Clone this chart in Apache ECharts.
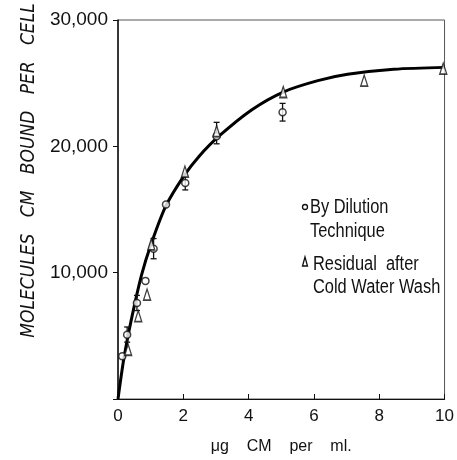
<!DOCTYPE html>
<html>
<head>
<meta charset="utf-8">
<script src="https://cdn.jsdelivr.net/npm/echarts@6/dist/echarts.min.js"></script>
<style>
  html, body { margin: 0; padding: 0; background: #fff; }
  #main { width: 457px; height: 460px; }
</style>
</head>
<body>
<div id="main"></div>
<script>
// values
var xTicks = [0, 2, 4, 6, 8, 10];
var yTicks = [0, 10000, 20000, 30000];

var dilution = [
  [0.13, 3380], [0.28, 5080], [0.58, 7600], [0.84, 9350], [1.09, 11900],
  [1.47, 15400], [2.06, 17100], [3.02, 20800], [5.04, 22700]
];
var residual = [
  [0.31, 3900], [0.62, 6560], [0.89, 8260], [1.02, 12240], [2.05, 18000],
  [3.02, 21200], [5.06, 24300], [7.54, 25200], [9.96, 26150]
];
// [x, low, high]
var errorBars = [
  [0.28, 4500, 5700], [0.58, 7000, 8200], [1.09, 11100, 12700],
  [2.06, 16550, 17650], [3.02, 20200, 21900], [5.04, 22000, 23400]
];
// hand-drawn fit curve
var curve = [
  [0, 0], [0.18, 3200], [0.41, 6300], [0.72, 9800], [1.02, 12300],
  [1.47, 15300], [2.03, 17700], [2.48, 19200], [3.09, 20800], [4.1, 22900],
  [5.06, 24300], [6.12, 25200], [7.03, 25700], [8.44, 26100], [10, 26250]
];

var myChart = echarts.init(document.getElementById('main'));
var narrow = '"Liberation Sans Narrow", "DejaVu Sans Condensed", sans-serif';
var sans = '"Liberation Sans", Arial, sans-serif';

var option = {
  backgroundColor: '#fff',
  animation: false,
  grid: {
    left: 118, right: 11, top: 20, bottom: 57,
    show: true, borderColor: '#555', borderWidth: 1
  },
  xAxis: {
    type: 'value',
    min: 0, max: 10, interval: 2,
    name: 'μg    CM    per    ml.',
    nameLocation: 'middle',
    nameGap: 40,
    nameTextStyle: { fontFamily: sans, fontSize: 16, color: '#111' },
    axisLine: { lineStyle: { color: '#111', width: 1.2 } },
    axisTick: { inside: true, length: 5, lineStyle: { color: '#111' } },
    axisLabel: { fontFamily: sans, fontSize: 17, color: '#111', margin: 9 },
    splitLine: { show: false }
  },
  yAxis: {
    type: 'value',
    min: 0, max: 30000, interval: 10000,
    name: 'MOLECULES   CM   BOUND   PER   CELL',
    nameLocation: 'middle',
    nameGap: 78,
    nameTextStyle: {
      fontFamily: narrow, fontSize: 19, fontStyle: 'italic', color: '#111',
      padding: [0, 0, 0, 78]
    },
    axisLine: { lineStyle: { color: '#111', width: 1.5 } },
    axisTick: { length: 5, lineStyle: { color: '#111' } },
    axisLabel: {
      fontFamily: sans, fontSize: 19, color: '#111', margin: 10,
      formatter: function (v) { return v === 0 ? '' : v.toLocaleString('en-US'); }
    },
    splitLine: { show: false }
  },
  graphic: [
    { type: 'circle', shape: { cx: 305, cy: 207, r: 2.5 },
      style: { fill: '#fff', stroke: '#111', lineWidth: 1.3 } },
    { type: 'text', x: 310, y: 195, scaleX: 0.82,
      style: { text: 'By Dilution\nTechnique', font: '20px ' + sans, fill: '#111',
               lineHeight: 24, verticalAlign: 'top' } },
    { type: 'polygon', shape: { points: [[305, 257], [302.5, 266], [307.5, 266]] },
      style: { fill: '#fff', stroke: '#111', lineWidth: 1.3 } },
    { type: 'text', x: 313, y: 253, scaleX: 0.82,
      style: { text: 'Residual  after\nCold Water Wash', font: '20px ' + sans, fill: '#111',
               lineHeight: 23, verticalAlign: 'top' } }
  ],
  series: [
    {
      type: 'line',
      data: curve,
      smooth: 0.3,
      showSymbol: false,
      lineStyle: { color: '#000', width: 3 },
      z: 2
    },
    {
      type: 'custom',
      data: errorBars,
      renderItem: function (params, api) {
        var x = api.value(0);
        var lo = api.coord([x, api.value(1)]);
        var hi = api.coord([x, api.value(2)]);
        var c = 3;
        return {
          type: 'group',
          children: [
            { type: 'line', shape: { x1: lo[0], y1: lo[1], x2: hi[0], y2: hi[1] },
              style: { stroke: '#111', lineWidth: 1.3 } },
            { type: 'line', shape: { x1: lo[0] - c, y1: lo[1], x2: lo[0] + c, y2: lo[1] },
              style: { stroke: '#111', lineWidth: 1.3 } },
            { type: 'line', shape: { x1: hi[0] - c, y1: hi[1], x2: hi[0] + c, y2: hi[1] },
              style: { stroke: '#111', lineWidth: 1.3 } }
          ]
        };
      },
      z: 3
    },
    {
      type: 'scatter',
      data: dilution,
      symbol: 'circle',
      symbolSize: 7,
      itemStyle: { color: '#fff', borderColor: '#111', borderWidth: 1.5 },
      z: 4
    },
    {
      type: 'scatter',
      data: residual,
      symbol: 'triangle',
      symbolSize: [7, 11],
      itemStyle: { color: '#fff', borderColor: '#111', borderWidth: 1.5 },
      z: 4
    }
  ]
};

option && myChart.setOption(option);
</script>
</body>
</html>
